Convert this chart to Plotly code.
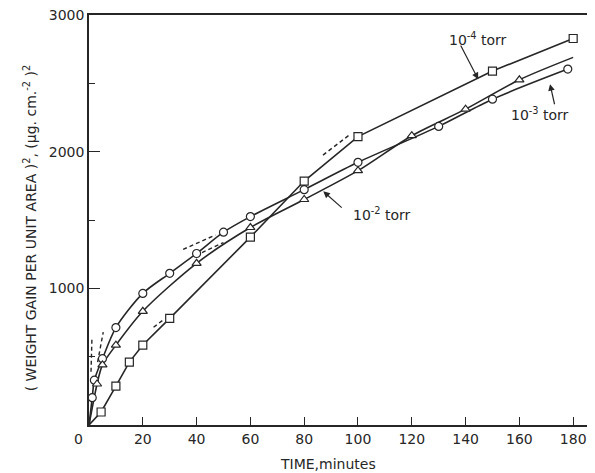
import plotly.graph_objects as go

# ---- data ----
# 10^-4 torr (squares)
sq_t = [4.5, 10, 15, 20, 30, 60, 80, 100, 150, 180]
sq_w = [95, 285, 460, 585, 780, 1375, 1785, 2110, 2590, 2828]
# 10^-3 torr (circles)
ci_t = [1.2, 2, 5, 10, 20, 30, 40, 50, 60, 80, 100, 130, 150, 178]
ci_w = [200, 328, 485, 713, 963, 1110, 1255, 1411, 1525, 1722, 1922, 2185, 2384, 2604]
# 10^-2 torr (triangles)
tr_t = [3, 5, 10, 20, 40, 60, 80, 100, 120, 140, 160]
tr_w = [300, 440, 584, 832, 1183, 1445, 1650, 1861, 2117, 2311, 2526]
tr_end_t = [180]
tr_end_w = [2690]

# dashed extrapolation segments (time, weight gain^2)
ext_t = [[0.75, 1.1], [3.2, 5.3], [35, 47], [42, 50], [24, 28], [87, 97]]
ext_w = [[390, 640], [460, 680], [1285, 1390], [1262, 1335], [715, 775], [1975, 2125]]

x_ticks = [0, 20, 40, 60, 80, 100, 120, 140, 160, 180]
y_ticks = [0, 1000, 2000, 3000]

labels = ["10<sup>-4</sup> torr", "10<sup>-3</sup> torr", "10<sup>-2</sup> torr"]
label_pos = [(144.6, 2825), (167.7, 2277), (108.9, 1547)]
arrow_tail = [(137.9, 2788), (173.2, 2336), (94.5, 1581)]
arrow_head = [(144.7, 2530), (171.4, 2494), (87.1, 1710)]

INK = "#262626"
FONT = "DejaVu Sans"

fig = go.Figure()

def curve(t, w, shape):
    fig.add_trace(go.Scatter(x=t, y=w, mode="lines",
                             line=dict(color=INK, width=1.6, shape=shape, smoothing=0.8),
                             hoverinfo="skip"))

curve([0] + sq_t, [0] + sq_w, "linear")
curve([0] + ci_t, [0] + ci_w, "spline")
curve([0] + tr_t + tr_end_t, [0] + tr_w + tr_end_w, "spline")

for t, w in zip(ext_t, ext_w):
    fig.add_trace(go.Scatter(x=t, y=w, mode="lines",
                             line=dict(color=INK, width=1.4, dash="4px,3px"),
                             hoverinfo="skip"))

def marks(t, w, sym, size):
    fig.add_trace(go.Scatter(x=t, y=w, mode="markers",
                             marker=dict(symbol=sym, size=size, color="white",
                                         line=dict(color=INK, width=1.2))))

marks(sq_t, sq_w, "square", 8)
marks(ci_t, ci_w, "circle", 8)
marks(tr_t, tr_w, "triangle-up", 8)

for txt, (lx, ly), (tx, ty), (hx, hy) in zip(labels, label_pos, arrow_tail, arrow_head):
    fig.add_annotation(x=lx, y=ly, text=txt, showarrow=False,
                       font=dict(family=FONT, size=14, color=INK))
    fig.add_annotation(x=hx, y=hy, ax=tx, ay=ty, axref="x", ayref="y",
                       text="", showarrow=True, arrowhead=2, arrowsize=1.1,
                       arrowwidth=1.2, arrowcolor=INK)

# origin label
fig.add_annotation(x=0, y=0, text="0", showarrow=False, xshift=-11, yshift=-14,
                   font=dict(family=FONT, size=14, color=INK))
# axis titles
fig.add_annotation(xref="paper", yref="paper", x=0.475, y=-0.095,
                   xanchor="center", yanchor="middle",
                   text="TIME,minutes", showarrow=False,
                   font=dict(family=FONT, size=14, color=INK))
fig.add_annotation(xref="paper", yref="paper", x=-0.117, y=0.48, textangle=-90,
                   xanchor="center", yanchor="middle", showarrow=False,
                   text="( WEIGHT GAIN PER UNIT AREA )<sup>2</sup>, (\u03bcg. cm.<sup>-2</sup> )<sup>2</sup>",
                   font=dict(family=FONT, size=14, color=INK))

# the page body adds an 8px offset; size the figure so the plot box lands where the reference has it
fig.update_layout(
    width=587, height=465,
    margin=dict(l=81, r=3, t=7, b=48),
    paper_bgcolor="white", plot_bgcolor="white",
    showlegend=False,
    font=dict(family=FONT, size=14, color=INK),
)
fig.update_xaxes(range=[0, 187], tickmode="array", tickvals=x_ticks,
                 ticktext=["" if v == 0 else str(v) for v in x_ticks],
                 ticks="inside", ticklen=8, tickwidth=1.3, tickcolor=INK,
                 showline=True, linecolor=INK, linewidth=1.5, mirror=True,
                 showgrid=False, zeroline=False, automargin=False,
                 ticklabeloverflow="allow")
fig.update_yaxes(range=[0, 3000], tickmode="array", tickvals=y_ticks,
                 ticktext=["" if v == 0 else str(v) for v in y_ticks],
                 ticks="inside", ticklen=11, tickwidth=1.3, tickcolor=INK,
                 minor=dict(tickmode="linear", tick0=0, dtick=500, ticks="inside",
                            ticklen=6, tickwidth=1.3, tickcolor=INK),
                 showline=True, linecolor=INK, linewidth=1.5, mirror=True,
                 showgrid=False, zeroline=False, automargin=False,
                 ticklabeloverflow="allow")

fig.write_html("out.html")
